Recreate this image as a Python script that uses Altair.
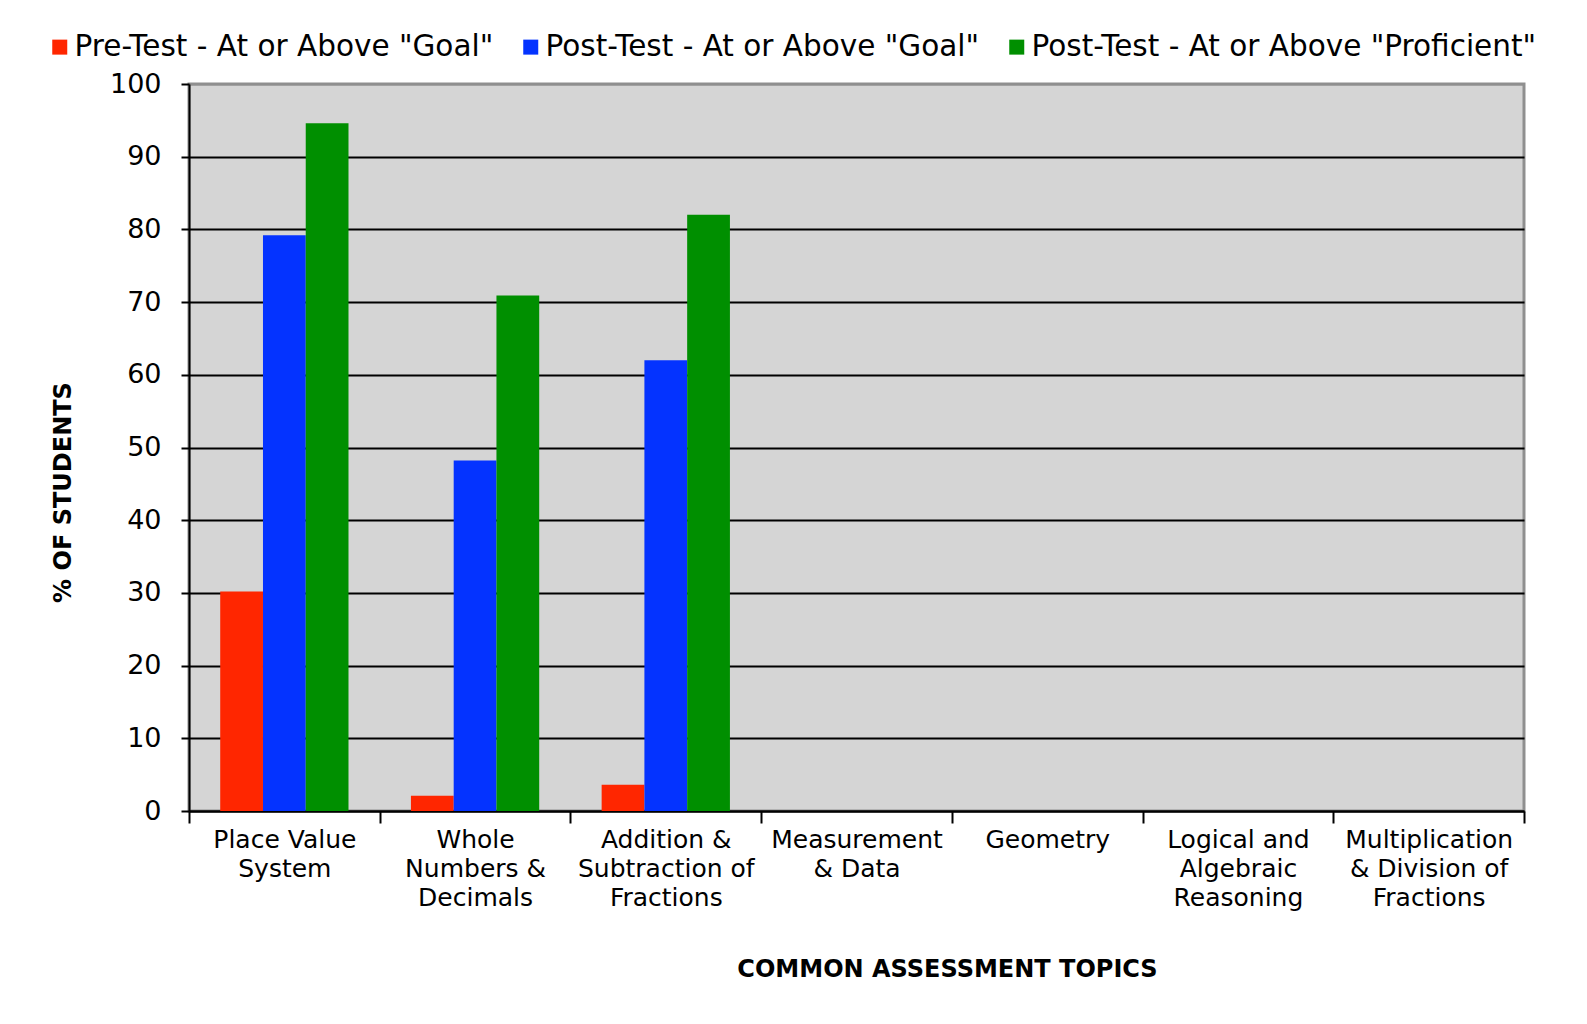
import altair as alt
import pandas as pd

categories = [
    "Place Value\nSystem",
    "Whole\nNumbers &\nDecimals",
    "Addition &\nSubtraction of\nFractions",
    "Measurement\n& Data",
    "Geometry",
    "Logical and\nAlgebraic\nReasoning",
    "Multiplication\n& Division of\nFractions",
]
series = [
    'Pre-Test - At or Above "Goal"',
    'Post-Test - At or Above "Goal"',
    'Post-Test - At or Above "Proficient"',
]
colors = ["#FF2600", "#0433FF", "#008F00"]

pre_goal = [30.2, 2.1, 3.6]
post_goal = [79.2, 48.2, 62.0]
post_prof = [94.6, 70.9, 82.0]

rows = []
for vals, s in zip([pre_goal, post_goal, post_prof], series):
    for c, v in zip(categories, vals):
        rows.append({"topic": c, "series": s, "value": v})
df = pd.DataFrame(rows)

FONT = "DejaVu Sans"

chart = (
    alt.Chart(df)
    .mark_bar()
    .encode(
        x=alt.X(
            "topic:N",
            sort=categories,
            scale=alt.Scale(domain=categories, paddingInner=0, paddingOuter=0),
            axis=alt.Axis(
                title="COMMON ASSESSMENT TOPICS",
                titleFontSize=24,
                titleFontWeight="bold",
                titleColor="black",
                titleX=758,
                titleY=158,
                titleAlign="center",
                titleBaseline="middle",
                labelAngle=0,
                labelFontSize=25,
                labelColor="black",
                labelLineHeight=29,
                labelPadding=4,
                labelBaseline="top",
                labelExpr="split(datum.label, '\\n')",
                tickBand="extent",
                tickSize=12,
                tickWidth=2,
                tickColor="black",
                domainColor="black",
                domainWidth=2,
                grid=False,
            ),
        ),
        xOffset=alt.XOffset(
            "series:N",
            sort=series,
            scale=alt.Scale(domain=series, paddingOuter=0.73, paddingInner=0),
        ),
        y=alt.Y(
            "value:Q",
            scale=alt.Scale(domain=[0, 100], nice=False),
            axis=alt.Axis(
                title="% OF STUDENTS",
                titleFontSize=24,
                titleFontWeight="bold",
                titleColor="black",
                titleX=-126,
                titleY=408,
                titleAlign="center",
                titleBaseline="middle",
                titleAngle=270,
                values=list(range(0, 101, 10)),
                labelFontSize=27,
                labelColor="black",
                labelPadding=20,
                tickSize=8,
                tickWidth=2,
                tickColor="black",
                domainColor="black",
                domainWidth=2,
                grid=True,
                gridColor=alt.condition("datum.value == 100", alt.value("#8f8f8f"), alt.value("black")),
                gridWidth=2,
                gridOpacity=1,
            ),
        ),
        color=alt.Color(
            "series:N",
            sort=series,
            scale=alt.Scale(domain=series, range=colors),
            legend=alt.Legend(
                title=None,
                orient="none",
                direction="horizontal",
                legendX=-144,
                legendY=-52,
                symbolType="square",
                symbolSize=225,
                symbolStrokeWidth=0,
                symbolOpacity=1,
                labelFontSize=29.5,
                labelColor="black",
                labelOffset=0,
                columnPadding=22,
                padding=0,
                labelLimit=800,
            ),
        ),
    )
    .properties(
        width=1335,
        height=727,
        autosize=alt.AutoSizeParams(type="none"),
        padding={"left": 181, "top": 76, "right": 55, "bottom": 190},
    )
    .configure(font=FONT)
    .configure_view(fill="#D5D5D5", stroke="#8f8f8f", strokeWidth=3)
)

chart.save("out.html", embed_options={"renderer": "svg", "actions": False})
